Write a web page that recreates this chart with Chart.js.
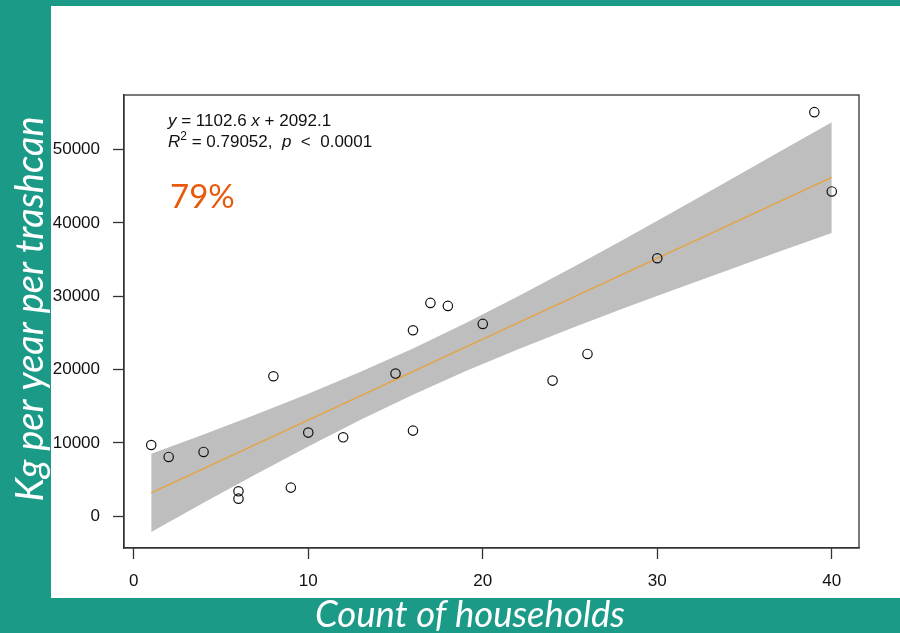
<!DOCTYPE html>
<html>
<head>
<meta charset="utf-8">
<script src="https://cdn.jsdelivr.net/npm/chart.js@4"></script>
<style>
  html, body { margin: 0; padding: 0; background: #1c9a88; }
  canvas { display: block; }
</style>
</head>
<body>
<canvas id="chart" width="900" height="633"></canvas>
<script>
// households per bin vs kg of trash per year
const households = [1, 2, 4, 6, 6, 8, 9, 10, 12, 15, 16, 16, 17, 18, 20, 24, 26, 30, 39, 40];
const kgPerYear = [9720, 8090, 8770, 3410, 2410, 19090, 3910, 11410, 10770, 19460, 25360, 11680, 29090, 28680, 26230, 18500, 22130, 35180, 55090, 44280];

// fitted line ends and confidence band edges
const fitX = [1, 40];
const fitY = [3195, 46196];
const bandX = [1, 4, 7, 10, 13, 16, 19, 22, 25, 28, 31, 34, 37, 40];
const bandUpper = [8530, 11150, 13880, 16700, 19690, 22890, 26310, 29950, 33740, 37640, 41620, 45640, 49700, 53700];
const bandLower = [-2140, 1850, 5740, 9530, 13160, 16580, 19770, 22750, 25570, 28290, 30930, 33520, 36080, 38630];

const xTicks = [0, 10, 20, 30, 40];
const yTicks = [0, 10000, 20000, 30000, 40000, 50000];

const xTitle = 'Count of households';
const yTitle = 'Kg per year per trashcan';
const eqLine1 = [['y', 'i'], [' = 1102.6 ', 'n'], ['x', 'i'], [' + 2092.1', 'n']];
const eqLine2 = [['R', 'i'], ['2', 's'], [' = 0.79052,  ', 'n'], ['p', 'i'], ['  <  0.0001', 'n']];
const bigLabel = '79%';

const TEAL = '#1c9a88';
const BASE_FONT = '"Liberation Sans", Arial, Helvetica, sans-serif';

function pairs(xs, ys) {
    return xs.map((x, i) => ({ x: x, y: ys[i] }));
}

// teal frame, white panel, plot box and the texts around it
const framePlugin = {
    id: 'frame',
    beforeDraw(chart) {
        const ctx = chart.ctx;
        ctx.save();
        ctx.fillStyle = TEAL;
        ctx.fillRect(0, 0, chart.width, chart.height);
        ctx.fillStyle = '#ffffff';
        ctx.fillRect(51, 6, 849, 592);
        ctx.restore();
    },
    afterDatasetsDraw(chart) {
        const ctx = chart.ctx;
        const a = chart.chartArea;
        ctx.save();
        ctx.strokeStyle = '#333333';
        ctx.lineWidth = 1.3;
        ctx.strokeRect(a.left, a.top, a.right - a.left, a.bottom - a.top);
        ctx.restore();
    },
    afterDraw(chart) {
        const ctx = chart.ctx;
        ctx.save();
        ctx.fillStyle = '#111111';
        ctx.textBaseline = 'alphabetic';
        ctx.textAlign = 'left';
        const drawPieces = (pieces, x, y) => {
            pieces.forEach(p => {
                if (p[1] === 'i') ctx.font = 'italic 17px ' + BASE_FONT;
                else if (p[1] === 's') ctx.font = '12px ' + BASE_FONT;
                else ctx.font = '17px ' + BASE_FONT;
                const dy = p[1] === 's' ? -7 : 0;
                ctx.fillText(p[0], x, y + dy);
                x += ctx.measureText(p[0]).width;
            });
        };
        drawPieces(eqLine1, 168, 126);
        drawPieces(eqLine2, 168, 147);

        ctx.fillStyle = '#e8590c';
        ctx.font = '33px Lato, "Open Sans", sans-serif';
        ctx.fillText(bigLabel, 170, 208);

        // axis titles sit on the teal frame
        ctx.fillStyle = '#ffffff';
        ctx.textAlign = 'center';
        ctx.font = 'italic 36.5px Lato, "Open Sans", sans-serif';
        ctx.fillText(xTitle, 470, 627);
        ctx.font = 'italic 38px Lato, "Open Sans", sans-serif';
        ctx.translate(43, 309);
        ctx.rotate(-Math.PI / 2);
        ctx.fillText(yTitle, 0, 0);
        ctx.restore();
    }
};

const ctx = document.getElementById('chart').getContext('2d');
const chart = new Chart(ctx, {
    type: 'line',
    data: {
        datasets: [
            {
                label: 'observed',
                data: pairs(households, kgPerYear),
                showLine: false,
                pointRadius: 4.7,
                pointBorderWidth: 1.2,
                pointBackgroundColor: 'rgba(0,0,0,0)',
                pointBorderColor: '#111111'
            },
            {
                label: 'fit',
                data: pairs(fitX, fitY),
                borderColor: '#e6a23c',
                borderWidth: 1.3,
                pointRadius: 0,
                fill: false
            },
            {
                label: 'upper',
                data: pairs(bandX, bandUpper),
                borderWidth: 0,
                borderColor: 'rgba(0,0,0,0)',
                backgroundColor: '#bebebe',
                pointRadius: 0,
                fill: '+1'
            },
            {
                label: 'lower',
                data: pairs(bandX, bandLower),
                borderWidth: 0,
                borderColor: 'rgba(0,0,0,0)',
                pointRadius: 0,
                fill: false
            }
        ]
    },
    options: {
        responsive: false,
        animation: false,
        devicePixelRatio: 1,
        layout: { padding: { left: 0, right: 41, top: 95, bottom: 0 } },
        plugins: {
            legend: { display: false },
            tooltip: { enabled: false }
        },
        scales: {
            x: {
                type: 'linear',
                min: -0.56,
                max: 41.56,
                afterBuildTicks: s => { s.ticks = xTicks.map(v => ({ value: v })); },
                afterFit: s => { s.height = 85; },
                grid: { drawOnChartArea: false, tickLength: 11, tickColor: '#333333', tickWidth: 1.3 },
                border: { color: '#333333', width: 1.3 },
                ticks: {
                    padding: 12,
                    color: '#111111',
                    font: { family: BASE_FONT, size: 17 },
                    maxRotation: 0,
                    callback: v => String(v)
                }
            },
            y: {
                type: 'linear',
                min: -4320,
                max: 57430,
                afterBuildTicks: s => { s.ticks = yTicks.map(v => ({ value: v })); },
                afterFit: s => { s.width = 124; },
                grid: { drawOnChartArea: false, tickLength: 11, tickColor: '#333333', tickWidth: 1.3 },
                border: { color: '#333333', width: 1.3 },
                ticks: {
                    padding: 13,
                    color: '#111111',
                    font: { family: BASE_FONT, size: 17 },
                    callback: v => String(v)
                }
            }
        }
    },
    plugins: [framePlugin]
});
</script>
</body>
</html>
